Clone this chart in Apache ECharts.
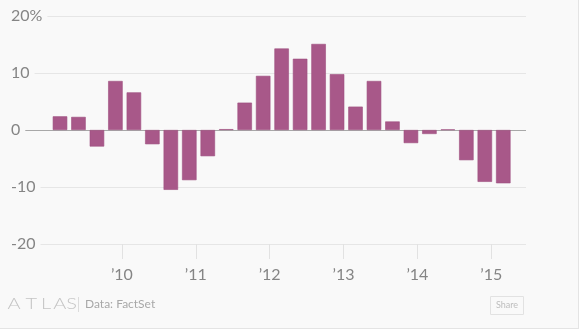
<!DOCTYPE html>
<html>
<head>
<meta charset="utf-8">
<script src="https://cdn.jsdelivr.net/npm/echarts@6/dist/echarts.min.js"></script>
<style>
  html, body { margin: 0; padding: 0; background: #ffffff; }
  #chart { width: 578px; height: 328px; background: #f9f9f9;
           border-right: 1px solid #e4e4e4; border-bottom: 1px solid #e4e4e4; }
</style>
</head>
<body>
<div id="chart"></div>
<script>
// Quarterly change, Q1 2009 – Q1 2015 (%)
const quarters = [
  '2009Q1','2009Q2','2009Q3','2009Q4',
  '2010Q1','2010Q2','2010Q3','2010Q4',
  '2011Q1','2011Q2','2011Q3','2011Q4',
  '2012Q1','2012Q2','2012Q3','2012Q4',
  '2013Q1','2013Q2','2013Q3','2013Q4',
  '2014Q1','2014Q2','2014Q3','2014Q4',
  '2015Q1'
];
const changes = [
  2.4, 2.3, -2.9, 8.6,
  6.6, -2.5, -10.5, -8.8,
  -4.6, 0.15, 4.8, 9.5,
  14.3, 12.5, 15.1, 9.8,
  4.1, 8.6, 1.5, -2.3,
  -0.7, 0.1, -5.3, -9.1,
  -9.35
];
// Year marks sit a little before the first quarter of each year
const yearLabels = ["’10", "’11", "’12", "’13", "’14", "’15"];
const yearTickPos = [3.35, 7.35, 11.35, 15.35, 19.35, 23.35];
const yTicks = [-20, -10, 0, 10, 20];

const chart = echarts.init(document.getElementById('chart'));
const font = 'Lato, "Open Sans", sans-serif';

const barData = changes.map((v, i) => [i, v]);

const yCommon = { type: 'value', min: -20, max: 20, interval: 10 };

// Footer logo, one letter at a time for the wide tracking
const logoLetters = ['A', 'T', 'L', 'A', 'S'];
const logoCenters = [14, 31.2, 46, 59.7, 71.7];
const logo = logoLetters.map((ch, i) => ({
  type: 'text', x: logoCenters[i], y: 304, scaleX: 1.25,
  style: {
    text: ch, fill: '#c4c4c4', font: '300 16px ' + font,
    align: 'center', verticalAlign: 'middle'
  }
}));

chart.setOption({
  animation: false,
  grid: { left: 25, right: 52, top: 16, bottom: 84 },
  xAxis: {
    type: 'value',
    min: -1.895,
    max: 25.23,
    axisLine: { show: false, onZero: false },
    splitLine: { show: false },
    axisTick: {
      show: true, length: 15, customValues: yearTickPos,
      lineStyle: { color: '#e2e2e2', width: 1 }
    },
    axisLabel: {
      customValues: yearTickPos,
      margin: 23,
      color: '#858585',
      fontFamily: font,
      fontSize: 16,
      formatter: (v) => {
        const k = yearTickPos.findIndex(p => Math.abs(p - v) < 1e-6);
        return k >= 0 ? yearLabels[k] : '';
      }
    }
  },
  yAxis: [
    Object.assign({}, yCommon, {
      axisLine: { show: false },
      axisTick: { show: false },
      axisLabel: { show: false },
      splitLine: {
        show: true,
        lineStyle: { color: ['#e6e6e6', '#e6e6e6', '#a8a8a8', '#e6e6e6', '#e6e6e6'], width: 1 }
      }
    }),
    Object.assign({}, yCommon, {
      position: 'left',
      z: 10,
      axisLine: { show: false },
      axisTick: { show: false },
      splitLine: { show: false },
      axisLabel: {
        show: true,
        align: 'left',
        margin: 14,
        color: '#858585',
        fontFamily: font,
        fontSize: 16,
        backgroundColor: '#f9f9f9',
        padding: [0, 5, 0, 0],
        formatter: (v) => v === 20 ? '20%' : String(v)
      }
    })
  ],
  series: [{
    type: 'bar',
    yAxisIndex: 0,
    data: barData,
    barWidth: 14.5,
    itemStyle: { color: '#a85889', borderColor: '#9d4f80', borderWidth: 0.6 }
  }],
  graphic: logo.concat([
    {
      type: 'line', shape: { x1: 78.5, y1: 297, x2: 78.5, y2: 312 },
      style: { stroke: '#dcdcdc', lineWidth: 1 }
    },
    {
      type: 'text', x: 85, y: 304,
      style: { text: 'Data: FactSet', fill: '#a8a8a8', font: '12px ' + font, verticalAlign: 'middle' }
    },
    {
      type: 'rect', shape: { x: 490.5, y: 296.5, width: 33, height: 18 },
      style: { fill: 'none', stroke: '#e2e2e2', lineWidth: 1 }
    },
    {
      type: 'text', x: 507, y: 305.5,
      style: { text: 'Share', fill: '#bdbdbd', font: '9px ' + font, align: 'center', verticalAlign: 'middle' }
    }
  ])
});
</script>
</body>
</html>
